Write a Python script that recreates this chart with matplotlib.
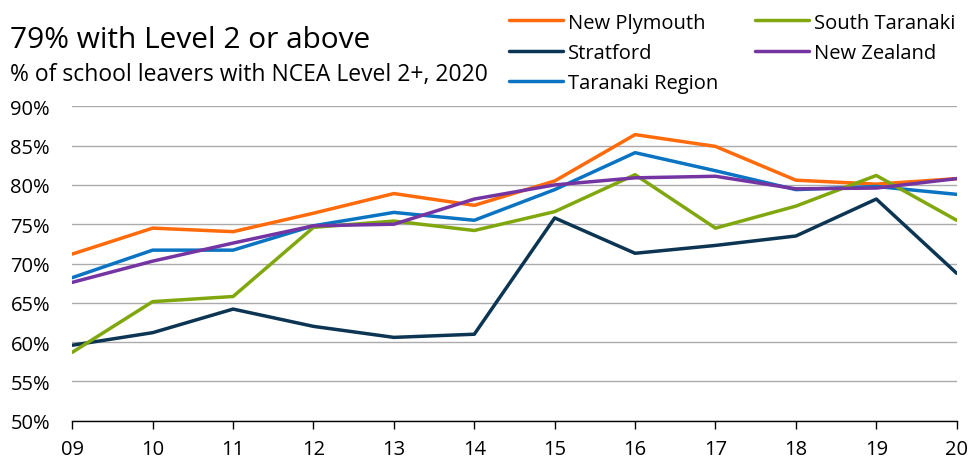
import matplotlib.pyplot as plt

plt.rcParams["font.family"] = ["Open Sans", "DejaVu Sans"]

years = ["09", "10", "11", "12", "13", "14", "15", "16", "17", "18", "19", "20"]

new_plymouth = [71.2, 74.5, 74.05, 76.4, 78.9, 77.4, 80.5, 86.4, 84.9, 80.6, 80.1, 80.8]
stratford = [59.6, 61.2, 64.2, 62.0, 60.6, 61.0, 75.8, 71.3, 72.3, 73.5, 78.2, 68.75]
taranaki_region = [68.2, 71.7, 71.7, 74.8, 76.5, 75.5, 79.4, 84.1, 81.8, 79.4, 79.8, 78.8]
south_taranaki = [58.7, 65.15, 65.8, 74.6, 75.4, 74.2, 76.6, 81.3, 74.5, 77.3, 81.2, 75.5]
new_zealand = [67.6, 70.3, 72.6, 74.8, 75.0, 78.2, 80.0, 80.9, 81.1, 79.5, 79.6, 80.8]

# legend order = column-wise fill (col 1 then col 2)
series = [
    ("New Plymouth", new_plymouth, "#FF6A0A"),
    ("Stratford", stratford, "#0C3553"),
    ("Taranaki Region", taranaki_region, "#0A73C2"),
    ("South Taranaki", south_taranaki, "#80A80E"),
    ("New Zealand", new_zealand, "#7434A2"),
]

yticks = [50, 55, 60, 65, 70, 75, 80, 85, 90]

fig = plt.figure(figsize=(9.7, 4.6), dpi=100)
ax = fig.add_axes([0.0745, 0.0833, 0.9118, 0.6834])

x = list(range(len(years)))
for name, vals, col in series:
    ax.plot(x, vals, color=col, linewidth=2.5, label=name, solid_capstyle="round")

ax.set_xlim(0, len(years) - 1)
ax.set_ylim(50, 90)
ax.set_yticks(yticks)
ax.set_yticklabels([f"{v}%" for v in yticks], fontsize=14.5)
ax.set_xticks(x)
ax.set_xticklabels(years, fontsize=14.5)
ax.grid(axis="y", color="#ABABAB", linewidth=1.0)
ax.set_axisbelow(True)
for s in ["top", "right", "left"]:
    ax.spines[s].set_visible(False)
ax.spines["bottom"].set_color("black")
ax.spines["bottom"].set_linewidth(1.0)
ax.tick_params(axis="y", length=0, pad=16)
ax.tick_params(axis="x", length=6, width=1, direction="out", pad=7)

fig.text(0.0103, 0.913, "79% with Level 2 or above", fontsize=21.5, va="center", ha="left")
fig.text(0.0103, 0.838, "% of school leavers with NCEA Level 2+, 2020", fontsize=16.5,
         va="center", ha="left")

fig.legend(loc="upper left", bbox_to_anchor=(0.506, 1.01), ncol=2, frameon=False,
           fontsize=14.5, handlelength=2.7, handletextpad=0.25, columnspacing=1.8,
           labelspacing=0.52)

plt.savefig("out.png", dpi=100)
